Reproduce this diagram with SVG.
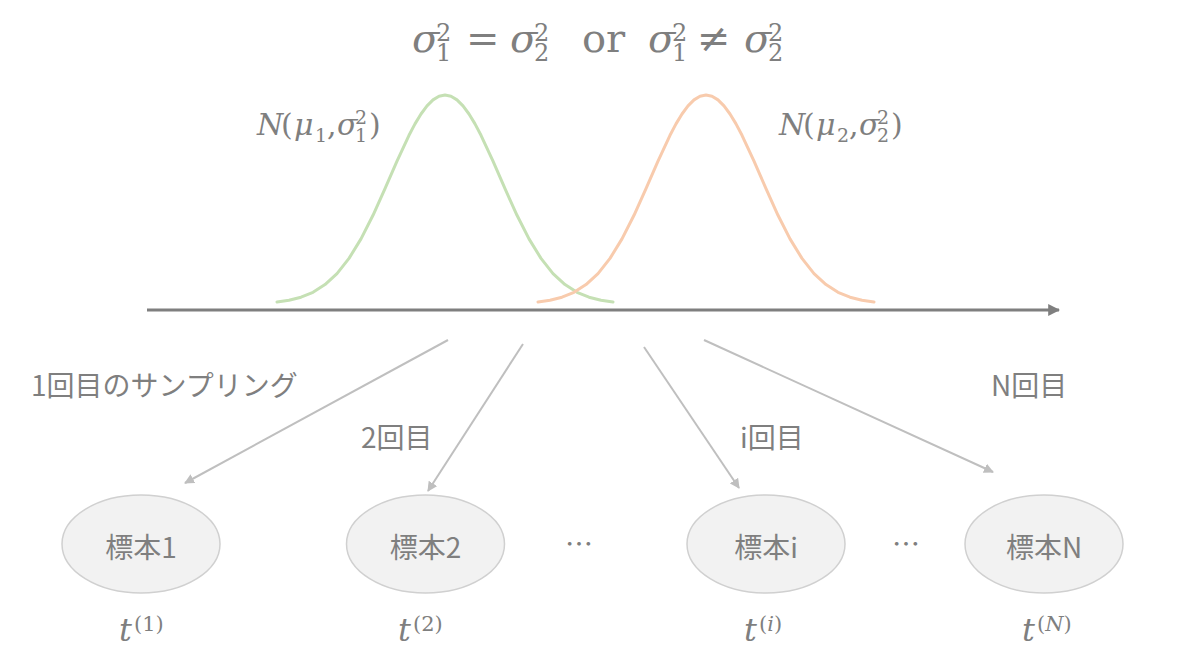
<svg xmlns="http://www.w3.org/2000/svg" xmlns:xlink="http://www.w3.org/1999/xlink" width="1200" height="660" viewBox="0 0 1200 660">
<style>
.math{font-family:"DejaVu Serif","Liberation Serif",serif;fill:#7f7f7f}
.it{font-style:italic}
.jp{font-family:"Noto Sans CJK JP","Noto Sans",sans-serif;fill:#7f7f7f;font-size:28px}
.node{fill:#f2f2f2;stroke:#d0d0d0;stroke-width:1.5}
.conn{stroke:#bfbfbf;stroke-width:2;fill:none}
.bell{fill:none;stroke-width:3;stroke-linejoin:round;stroke-linecap:round}
.s24{font-size:24px}
.s19{font-size:19px}
</style>
<defs>
<marker id="ah" viewBox="0 0 10 10" refX="9" refY="5" markerWidth="5" markerHeight="5" orient="auto" markerUnits="strokeWidth">
<path d="M0,0 L10,5 L0,10 z" fill="#bfbfbf"/>
</marker>
<marker id="axh" viewBox="0 0 10 10" refX="9" refY="5" markerWidth="4" markerHeight="4" orient="auto" markerUnits="strokeWidth">
<path d="M0,0 L10,5 L0,10 z" fill="#7f7f7f"/>
</marker>
<path id="bellpath" d="M-168,302 L-156,300.3 L-144,297.2 L-132,292.3 L-120,284.6 L-108,273.6 L-96,258.4 L-84,238.9 L-72,215.3 L-60,188.7 L-48,161.2 L-36,135.3 L-30,123.9 L-24,114 L-18,105.9 L-12,99.9 L-6,96.2 L0,95 L6,96.2 L12,99.9 L18,105.9 L24,114 L30,123.9 L36,135.3 L48,161.2 L60,188.7 L72,215.3 L84,238.9 L96,258.4 L108,273.6 L120,284.6 L132,292.3 L144,297.2 L156,300.3 L168,302"/>
</defs>
<rect width="1200" height="660" fill="#ffffff"/>

<g id="title">
<text class="math" font-size="40"><tspan class="it" x="412" y="52">σ</tspan><tspan class="s24" x="436" y="41">2</tspan><tspan class="s24" x="436" y="61">1</tspan><tspan x="466" y="52">=</tspan><tspan class="it" x="510" y="52">σ</tspan><tspan class="s24" x="534" y="41">2</tspan><tspan class="s24" x="534" y="61">2</tspan><tspan x="582" y="52">or</tspan><tspan class="it" x="648" y="52">σ</tspan><tspan class="s24" x="672" y="41">2</tspan><tspan class="s24" x="672" y="61">1</tspan><tspan x="697" y="52">≠</tspan><tspan class="it" x="744" y="52">σ</tspan><tspan class="s24" x="768" y="41">2</tspan><tspan class="s24" x="768" y="61">2</tspan></text>
</g>

<g id="dist1">
<use xlink:href="#bellpath" x="445" class="bell" stroke="#c5e0b4"/>
<text class="math" font-size="30"><tspan class="it" x="257" y="135">N</tspan><tspan x="281" y="135">(</tspan><tspan class="it" x="294" y="135">μ</tspan><tspan class="s19" x="315" y="142">1</tspan><tspan x="327" y="135">,</tspan><tspan class="it" x="337" y="135">σ</tspan><tspan class="s19" x="355" y="124">2</tspan><tspan class="s19" x="355" y="142">1</tspan><tspan x="369" y="135">)</tspan></text>
</g>

<g id="dist2">
<use xlink:href="#bellpath" x="706" class="bell" stroke="#f8cbad"/>
<text class="math" font-size="30"><tspan class="it" x="779" y="135">N</tspan><tspan x="803" y="135">(</tspan><tspan class="it" x="816" y="135">μ</tspan><tspan class="s19" x="837" y="142">2</tspan><tspan x="849" y="135">,</tspan><tspan class="it" x="859" y="135">σ</tspan><tspan class="s19" x="877" y="124">2</tspan><tspan class="s19" x="877" y="142">2</tspan><tspan x="891" y="135">)</tspan></text>
</g>

<g id="axis">
<line x1="147" y1="310" x2="1059" y2="310" stroke="#7f7f7f" stroke-width="3" marker-end="url(#axh)"/>
</g>

<g id="connectors">
<line class="conn" x1="448" y1="340" x2="185" y2="483" marker-end="url(#ah)"/>
<line class="conn" x1="523" y1="344" x2="428" y2="491" marker-end="url(#ah)"/>
<line class="conn" x1="644" y1="347" x2="739" y2="488" marker-end="url(#ah)"/>
<line class="conn" x1="704" y1="340" x2="993" y2="472" marker-end="url(#ah)"/>
</g>

<g id="labels">
<text class="jp" x="31" y="396">1回目のサンプリング</text>
<text class="jp" x="361" y="448">2回目</text>
<text class="jp" x="740" y="448">i回目</text>
<text class="jp" x="991" y="396">N回目</text>
</g>

<g id="node1">
<ellipse class="node" cx="141" cy="544" rx="79" ry="49"/>
<text class="jp" x="141" y="558" text-anchor="middle" font-size="29">標本1</text>
<text class="math" font-size="32"><tspan class="it" x="119" y="641">t</tspan><tspan font-size="21" x="134" y="631">(1)</tspan></text>
</g>

<g id="node2">
<ellipse class="node" cx="425.5" cy="544" rx="79" ry="49"/>
<text class="jp" x="425.5" y="558" text-anchor="middle" font-size="29">標本2</text>
<text class="math" font-size="32"><tspan class="it" x="398" y="641">t</tspan><tspan font-size="21" x="413" y="631">(2)</tspan></text>
</g>

<g id="node3">
<ellipse class="node" cx="766" cy="544" rx="79" ry="49"/>
<text class="jp" x="766" y="558" text-anchor="middle" font-size="29">標本i</text>
<text class="math" font-size="32"><tspan class="it" x="744" y="641">t</tspan><tspan font-size="21" x="759" y="631">(<tspan class="it">i</tspan>)</tspan></text>
</g>

<g id="node4">
<ellipse class="node" cx="1044" cy="544" rx="79" ry="49"/>
<text class="jp" x="1044" y="558" text-anchor="middle" font-size="29">標本N</text>
<text class="math" font-size="32"><tspan class="it" x="1022" y="641">t</tspan><tspan font-size="21" x="1037" y="631">(<tspan class="it">N</tspan>)</tspan></text>
</g>

<g id="dots">
<text class="jp" x="579" y="555" text-anchor="middle" font-size="30">…</text>
<text class="jp" x="906" y="555" text-anchor="middle" font-size="30">…</text>
</g>
</svg>
